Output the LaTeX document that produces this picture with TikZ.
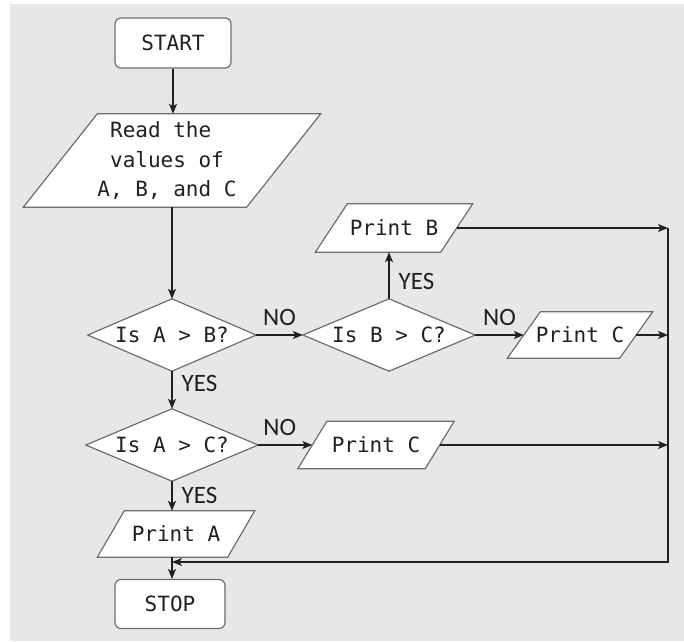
\documentclass[tikz,border=0pt]{standalone}
\usepackage{fontspec}
\setmonofont{DejaVu Sans Mono}
\newfontfamily\labelfont{Carlito}
\usetikzlibrary{arrows.meta}
\definecolor{pagegray}{HTML}{E6E7E9}
\definecolor{ink}{HTML}{231F20}
\definecolor{edge}{HTML}{6D6E71}
\pgfdeclarelayer{back}
\pgfdeclarelayer{shapes}
\pgfsetlayers{back,shapes,main}

% outline of a parallelogram around a named text node (#2 = half the slant)
\newcommand\slantframe[2]{%
  \path[frame] ([xshift=-#2]#1.south west) -- ([xshift=-#2]#1.south east)
    -- ([xshift=#2]#1.north east) -- ([xshift=#2]#1.north west) -- cycle;}
% outline of a decision diamond through the node's compass anchors
\newcommand\diamondframe[1]{%
  \path[frame] (#1.north) -- (#1.east) -- (#1.south) -- (#1.west) -- cycle;}

\begin{document}
\begin{tikzpicture}[x=1pt,y=-1pt,
  every node/.style={text=ink},
  txt/.style={font=\ttfamily\fontsize{21}{29.5}\selectfont, inner sep=0pt, align=center},
  terminal/.style={txt, draw=edge, fill=white, line width=1.2pt, rounded corners=6pt},
  frame/.style={draw=edge, fill=white, line width=1.2pt, line join=miter},
  flow/.style={draw=ink, line width=1.2pt, -{Stealth[length=10pt,width=8pt,inset=2.5pt]}},
  tag/.style={font=\labelfont\fontsize{25}{25}\selectfont, inner sep=1pt}
]
\useasboundingbox (0,0) rectangle (684,641);
\begin{pgfonlayer}{back}
  \fill[white] (0,0) rectangle (684,641);
  \fill[pagegray] (10,4) rectangle (684,641);
\end{pgfonlayer}

% text nodes
\node[terminal, minimum width=116pt, minimum height=50pt] (start) at (173,43) {START};
\node[txt, minimum width=223pt, minimum height=93pt] (read) at (172,160.5)
  {\hspace*{-10pt}Read the\hphantom{x}\\\hspace*{-10pt}values of\\\hspace*{-10pt}A, B, and C};
\node[txt, minimum width=168pt, minimum height=72pt] (d1) at (172,335) {Is A > B?};
\node[txt, minimum width=172pt, minimum height=72pt] (d2) at (389,335) {Is B > C?};
\node[txt, minimum width=172pt, minimum height=72pt] (d3) at (172,445) {Is A > C?};
\node[txt, minimum width=125pt, minimum height=48pt] (pb) at (394,228) {Print B};
\node[txt, minimum width=112pt, minimum height=46pt] (pc1) at (580,335) {Print C};
\node[txt, minimum width=127pt, minimum height=47pt] (pc2) at (376,445) {Print C};
\node[txt, minimum width=130pt, minimum height=46pt] (pa) at (176,534) {Print A};
\node[terminal, minimum width=110pt, minimum height=49pt] (stop) at (170,604) {STOP};

% shape outlines behind the text
\begin{pgfonlayer}{shapes}
  \slantframe{read}{37pt}
  \slantframe{pb}{16pt}
  \slantframe{pc1}{16.5pt}
  \slantframe{pc2}{14.5pt}
  \slantframe{pa}{13.5pt}
  \diamondframe{d1}
  \diamondframe{d2}
  \diamondframe{d3}
\end{pgfonlayer}

\coordinate (rail) at (668,0);
\coordinate (merge) at (172,562);

% connectors
\draw[flow] (start.south) -- (start.south |- read.north);
\draw[flow] (read.south) -- (d1.north);
\draw[flow] (d1.east) -- node[tag, above=8pt] {NO} (d2.west);
\draw[flow] (d1.south) -- node[tag, right=8pt, pos=0.33] {YES} (d3.north);
\draw[flow] (d2.north) -- node[tag, right=8pt, pos=0.37] {YES} (d2.north |- pb.south);
\draw[flow] (d2.east) -- node[tag, above=8pt] {NO} (pc1.west);
\draw[flow] (d3.east) -- node[tag, above=8pt, pos=0.4] {NO} (pc2.west);
\draw[flow] (d3.south) -- node[tag, right=8pt, pos=0.47] {YES} (d3.south |- pa.north);
\draw[flow] (pb.east) -- (pb.east -| rail);
\draw[flow] (pc1.east) -- (pc1.east -| rail);
\draw[flow] (pc2.east) -- (pc2.east -| rail);
\draw[flow] (pb.east -| rail) -- (rail |- merge) -- (merge);
\draw[flow] (pa.south -| merge) -- (stop.north -| merge);
\end{tikzpicture}
\end{document}
